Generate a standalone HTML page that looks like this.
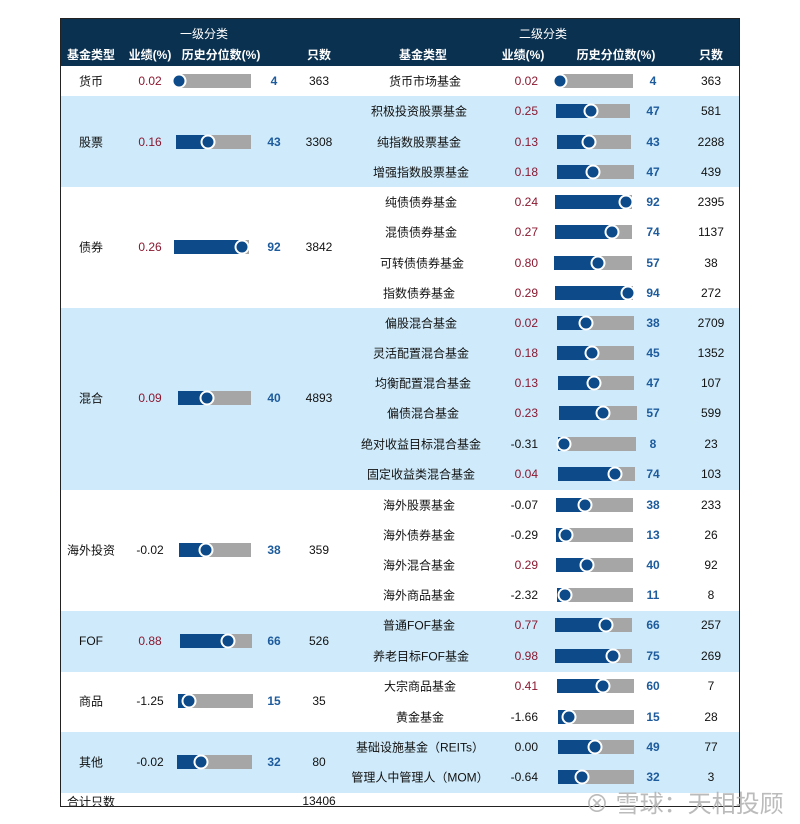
<!DOCTYPE html>
<html><head><meta charset="utf-8"><style>
body{margin:0;width:800px;height:824px;background:#fff;position:relative;font-family:"Liberation Sans","Noto Sans CJK SC",sans-serif;font-size:12px;color:#111;overflow:hidden}
#t{position:absolute;left:60px;top:18px;width:680px;height:789px;border:1px solid #222;box-sizing:border-box;overflow:hidden}
.hd{position:absolute;left:0;top:0;width:680px;height:47px;background:#0b3150;color:#fff;font-weight:bold}
.hd span{position:absolute;transform:translateX(-50%);white-space:nowrap}
.bg{position:absolute;left:0;width:680px;background:#cfeafa}
.c{position:absolute;transform:translate(-50%,-50%);white-space:nowrap}
.rt{position:absolute;transform:translate(-100%,-50%);white-space:nowrap}
.red{color:#8a1830}
.bl{color:#1d5b9c;font-weight:bold}
.bar{position:absolute;height:14px;background:#a6a6a6;transform:translateY(-50%)}
.bar i{position:absolute;left:0;top:0;height:14px;background:#0c4a89}
.bar b{position:absolute;top:50%;width:15px;height:15px;border-radius:50%;background:#0c4a89;border:2px solid #fff;box-sizing:border-box;transform:translate(-50%,-50%)}
.wm{position:absolute;left:585px;top:784px;font-size:24px;color:rgba(175,175,175,0.85);white-space:nowrap}
</style></head><body>
<div id="t">
<div class="hd">
<span style="left:143px;top:6px;font-weight:normal">一级分类</span>
<span style="left:482px;top:6px;font-weight:normal">二级分类</span>
<span style="left:30px;top:27px">基金类型</span>
<span style="left:89px;top:27px">业绩(%)</span>
<span style="left:160px;top:27px">历史分位数(%)</span>
<span style="left:258px;top:27px">只数</span>
<span style="left:362px;top:27px">基金类型</span>
<span style="left:462px;top:27px">业绩(%)</span>
<span style="left:555px;top:27px">历史分位数(%)</span>
<span style="left:650px;top:27px">只数</span>
</div>
<div class="bg" style="top:77px;height:91px"></div>
<div class="bg" style="top:289px;height:182px"></div>
<div class="bg" style="top:592px;height:61px"></div>
<div class="bg" style="top:713px;height:61px"></div>

<span class="c" style="left:30px;top:62px">货币</span><span class="c red" style="left:89px;top:62px">0.02</span><div class="bar" style="left:115px;top:62px;width:75px"><i style="width:4%"></i><b style="left:4%"></b></div><span class="c bl" style="left:213px;top:62px">4</span><span class="c" style="left:258px;top:62px">363</span>
<span class="c" style="left:30px;top:123px">股票</span><span class="c red" style="left:89px;top:123px">0.16</span><div class="bar" style="left:115px;top:123px;width:75px"><i style="width:43%"></i><b style="left:43%"></b></div><span class="c bl" style="left:213px;top:123px">43</span><span class="c" style="left:258px;top:123px">3308</span>
<span class="c" style="left:30px;top:228px">债券</span><span class="c red" style="left:89px;top:228px">0.26</span><div class="bar" style="left:113px;top:228px;width:75px"><i style="width:90%"></i><b style="left:90%"></b></div><span class="c bl" style="left:213px;top:228px">92</span><span class="c" style="left:258px;top:228px">3842</span>
<span class="c" style="left:30px;top:379px">混合</span><span class="c red" style="left:89px;top:379px">0.09</span><div class="bar" style="left:117px;top:379px;width:73px"><i style="width:40%"></i><b style="left:40%"></b></div><span class="c bl" style="left:213px;top:379px">40</span><span class="c" style="left:258px;top:379px">4893</span>
<span class="c" style="left:30px;top:531px">海外投资</span><span class="c" style="left:89px;top:531px">-0.02</span><div class="bar" style="left:118px;top:531px;width:72px"><i style="width:38%"></i><b style="left:38%"></b></div><span class="c bl" style="left:213px;top:531px">38</span><span class="c" style="left:258px;top:531px">359</span>
<span class="c" style="left:30px;top:622px">FOF</span><span class="c red" style="left:89px;top:622px">0.88</span><div class="bar" style="left:119px;top:622px;width:72px"><i style="width:66%"></i><b style="left:66%"></b></div><span class="c bl" style="left:213px;top:622px">66</span><span class="c" style="left:258px;top:622px">526</span>
<span class="c" style="left:30px;top:682px">商品</span><span class="c" style="left:89px;top:682px">-1.25</span><div class="bar" style="left:117px;top:682px;width:75px"><i style="width:15%"></i><b style="left:15%"></b></div><span class="c bl" style="left:213px;top:682px">15</span><span class="c" style="left:258px;top:682px">35</span>
<span class="c" style="left:30px;top:743px">其他</span><span class="c" style="left:89px;top:743px">-0.02</span><div class="bar" style="left:116px;top:743px;width:75px"><i style="width:32%"></i><b style="left:32%"></b></div><span class="c bl" style="left:213px;top:743px">32</span><span class="c" style="left:258px;top:743px">80</span>
<span style="position:absolute;left:6px;top:774px">合计只数</span><span class="c" style="left:258px;top:782px">13406</span>

<span class="c" style="left:364px;top:62px">货币市场基金</span><span class="rt red" style="left:477px;top:62px">0.02</span><div class="bar" style="left:496px;top:62px;width:76px"><i style="width:4%"></i><b style="left:4%"></b></div><span class="c bl" style="left:592px;top:62px">4</span><span class="c" style="left:650px;top:62px">363</span>
<span class="c" style="left:358px;top:92px">积极投资股票基金</span><span class="rt red" style="left:477px;top:92px">0.25</span><div class="bar" style="left:495px;top:92px;width:74px"><i style="width:47%"></i><b style="left:47%"></b></div><span class="c bl" style="left:592px;top:92px">47</span><span class="c" style="left:650px;top:92px">581</span>
<span class="c" style="left:358px;top:123px">纯指数股票基金</span><span class="rt red" style="left:477px;top:123px">0.13</span><div class="bar" style="left:496px;top:123px;width:74px"><i style="width:43%"></i><b style="left:43%"></b></div><span class="c bl" style="left:592px;top:123px">43</span><span class="c" style="left:650px;top:123px">2288</span>
<span class="c" style="left:360px;top:153px">增强指数股票基金</span><span class="rt red" style="left:477px;top:153px">0.18</span><div class="bar" style="left:496px;top:153px;width:77px"><i style="width:47%"></i><b style="left:47%"></b></div><span class="c bl" style="left:592px;top:153px">47</span><span class="c" style="left:650px;top:153px">439</span>
<span class="c" style="left:360px;top:183px">纯债债券基金</span><span class="rt red" style="left:477px;top:183px">0.24</span><div class="bar" style="left:494px;top:183px;width:77px"><i style="width:92%"></i><b style="left:92%"></b></div><span class="c bl" style="left:592px;top:183px">92</span><span class="c" style="left:650px;top:183px">2395</span>
<span class="c" style="left:360px;top:213px">混债债券基金</span><span class="rt red" style="left:477px;top:213px">0.27</span><div class="bar" style="left:494px;top:213px;width:77px"><i style="width:74%"></i><b style="left:74%"></b></div><span class="c bl" style="left:592px;top:213px">74</span><span class="c" style="left:650px;top:213px">1137</span>
<span class="c" style="left:361px;top:244px">可转债债券基金</span><span class="rt red" style="left:477px;top:244px">0.80</span><div class="bar" style="left:493px;top:244px;width:78px"><i style="width:57%"></i><b style="left:57%"></b></div><span class="c bl" style="left:592px;top:244px">57</span><span class="c" style="left:650px;top:244px">38</span>
<span class="c" style="left:358px;top:274px">指数债券基金</span><span class="rt red" style="left:477px;top:274px">0.29</span><div class="bar" style="left:494px;top:274px;width:78px"><i style="width:94%"></i><b style="left:94%"></b></div><span class="c bl" style="left:592px;top:274px">94</span><span class="c" style="left:650px;top:274px">272</span>
<span class="c" style="left:360px;top:304px">偏股混合基金</span><span class="rt red" style="left:477px;top:304px">0.02</span><div class="bar" style="left:496px;top:304px;width:77px"><i style="width:38%"></i><b style="left:38%"></b></div><span class="c bl" style="left:592px;top:304px">38</span><span class="c" style="left:650px;top:304px">2709</span>
<span class="c" style="left:360px;top:334px">灵活配置混合基金</span><span class="rt red" style="left:477px;top:334px">0.18</span><div class="bar" style="left:496px;top:334px;width:77px"><i style="width:45%"></i><b style="left:45%"></b></div><span class="c bl" style="left:592px;top:334px">45</span><span class="c" style="left:650px;top:334px">1352</span>
<span class="c" style="left:362px;top:364px">均衡配置混合基金</span><span class="rt red" style="left:477px;top:364px">0.13</span><div class="bar" style="left:497px;top:364px;width:76px"><i style="width:47%"></i><b style="left:47%"></b></div><span class="c bl" style="left:592px;top:364px">47</span><span class="c" style="left:650px;top:364px">107</span>
<span class="c" style="left:362px;top:394px">偏债混合基金</span><span class="rt red" style="left:477px;top:394px">0.23</span><div class="bar" style="left:498px;top:394px;width:78px"><i style="width:57%"></i><b style="left:57%"></b></div><span class="c bl" style="left:592px;top:394px">57</span><span class="c" style="left:650px;top:394px">599</span>
<span class="c" style="left:360px;top:425px">绝对收益目标混合基金</span><span class="rt" style="left:477px;top:425px">-0.31</span><div class="bar" style="left:497px;top:425px;width:78px"><i style="width:8%"></i><b style="left:8%"></b></div><span class="c bl" style="left:592px;top:425px">8</span><span class="c" style="left:650px;top:425px">23</span>
<span class="c" style="left:360px;top:455px">固定收益类混合基金</span><span class="rt red" style="left:477px;top:455px">0.04</span><div class="bar" style="left:497px;top:455px;width:77px"><i style="width:74%"></i><b style="left:74%"></b></div><span class="c bl" style="left:592px;top:455px">74</span><span class="c" style="left:650px;top:455px">103</span>
<span class="c" style="left:358px;top:486px">海外股票基金</span><span class="rt" style="left:477px;top:486px">-0.07</span><div class="bar" style="left:495px;top:486px;width:77px"><i style="width:38%"></i><b style="left:38%"></b></div><span class="c bl" style="left:592px;top:486px">38</span><span class="c" style="left:650px;top:486px">233</span>
<span class="c" style="left:358px;top:516px">海外债券基金</span><span class="rt" style="left:477px;top:516px">-0.29</span><div class="bar" style="left:495px;top:516px;width:77px"><i style="width:13%"></i><b style="left:13%"></b></div><span class="c bl" style="left:592px;top:516px">13</span><span class="c" style="left:650px;top:516px">26</span>
<span class="c" style="left:358px;top:546px">海外混合基金</span><span class="rt red" style="left:477px;top:546px">0.29</span><div class="bar" style="left:495px;top:546px;width:77px"><i style="width:40%"></i><b style="left:40%"></b></div><span class="c bl" style="left:592px;top:546px">40</span><span class="c" style="left:650px;top:546px">92</span>
<span class="c" style="left:358px;top:576px">海外商品基金</span><span class="rt" style="left:477px;top:576px">-2.32</span><div class="bar" style="left:496px;top:576px;width:76px"><i style="width:11%"></i><b style="left:11%"></b></div><span class="c bl" style="left:592px;top:576px">11</span><span class="c" style="left:650px;top:576px">8</span>
<span class="c" style="left:358px;top:606px">普通FOF基金</span><span class="rt red" style="left:477px;top:606px">0.77</span><div class="bar" style="left:494px;top:606px;width:77px"><i style="width:66%"></i><b style="left:66%"></b></div><span class="c bl" style="left:592px;top:606px">66</span><span class="c" style="left:650px;top:606px">257</span>
<span class="c" style="left:360px;top:637px">养老目标FOF基金</span><span class="rt red" style="left:477px;top:637px">0.98</span><div class="bar" style="left:494px;top:637px;width:77px"><i style="width:75%"></i><b style="left:75%"></b></div><span class="c bl" style="left:592px;top:637px">75</span><span class="c" style="left:650px;top:637px">269</span>
<span class="c" style="left:359px;top:667px">大宗商品基金</span><span class="rt red" style="left:477px;top:667px">0.41</span><div class="bar" style="left:496px;top:667px;width:77px"><i style="width:60%"></i><b style="left:60%"></b></div><span class="c bl" style="left:592px;top:667px">60</span><span class="c" style="left:650px;top:667px">7</span>
<span class="c" style="left:359px;top:698px">黄金基金</span><span class="rt" style="left:477px;top:698px">-1.66</span><div class="bar" style="left:497px;top:698px;width:76px"><i style="width:15%"></i><b style="left:15%"></b></div><span class="c bl" style="left:592px;top:698px">15</span><span class="c" style="left:650px;top:698px">28</span>
<span class="c" style="left:359px;top:728px">基础设施基金（REITs）</span><span class="rt" style="left:477px;top:728px">0.00</span><div class="bar" style="left:497px;top:728px;width:76px"><i style="width:49%"></i><b style="left:49%"></b></div><span class="c bl" style="left:592px;top:728px">49</span><span class="c" style="left:650px;top:728px">77</span>
<span class="c" style="left:359px;top:758px">管理人中管理人（MOM）</span><span class="rt" style="left:477px;top:758px">-0.64</span><div class="bar" style="left:497px;top:758px;width:76px"><i style="width:32%"></i><b style="left:32%"></b></div><span class="c bl" style="left:592px;top:758px">32</span><span class="c" style="left:650px;top:758px">3</span>
</div>
<div class="wm">⊗ 雪球：天相投顾</div>
</body></html>
